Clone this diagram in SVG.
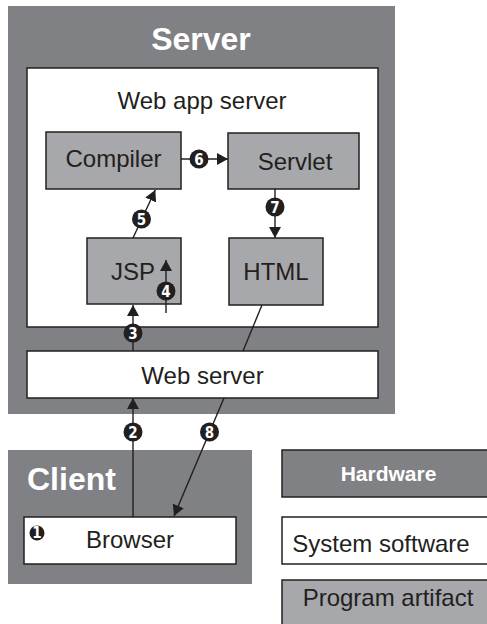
<svg xmlns="http://www.w3.org/2000/svg" width="487" height="624" viewBox="0 0 487 624">
<defs>
<style>
.hw{fill:#808185;}
.hwb{fill:#808185;stroke:#231f20;stroke-width:1.5;}
.sw{fill:#ffffff;stroke:#231f20;stroke-width:1.5;}
.pa{fill:#a7a8ab;stroke:#231f20;stroke-width:1.5;}
.t{font-family:"Liberation Sans",Arial,sans-serif;font-size:24px;fill:#231f20;text-anchor:middle;}
.tb{font-family:"Liberation Sans",Arial,sans-serif;font-weight:bold;fill:#ffffff;}
.ln{stroke:#231f20;stroke-width:1.4;fill:none;}
.bd{fill:#231f20;}
.bt{font-family:"DejaVu Sans Condensed","Liberation Sans",sans-serif;font-weight:bold;font-size:15px;fill:#ffffff;text-anchor:middle;}
</style>
<marker id="ah" markerUnits="userSpaceOnUse" markerWidth="12" markerHeight="12" refX="11" refY="6" orient="auto">
<path d="M0,0 L11,6 L0,12 z" fill="#231f20"/>
</marker>
</defs>

<g id="server">
<rect class="hw" x="8" y="6" width="387" height="408"/>
<text class="tb" x="201" y="50" font-size="32" text-anchor="middle">Server</text>
</g>
<g id="webappserver">
<rect class="sw" x="27" y="68" width="351" height="259"/>
<text class="t" x="202" y="109" font-size="23.5">Web app server</text>
</g>
<g id="compiler">
<rect class="pa" x="46" y="132" width="135" height="57"/>
<text class="t" x="113.5" y="167" font-size="25">Compiler</text>
</g>
<g id="servlet">
<rect class="pa" x="228" y="133" width="131" height="56"/>
<text class="t" x="295" y="170">Servlet</text>
</g>
<g id="jsp">
<rect class="pa" x="87" y="238" width="94" height="66"/>
<text class="t" x="133" y="280">JSP</text>
</g>
<g id="html">
<rect class="pa" x="229" y="238" width="94" height="67"/>
<text class="t" x="276" y="280">HTML</text>
</g>
<g id="webserver">
<rect class="sw" x="27" y="351" width="351" height="47"/>
<text class="t" x="202.5" y="384" font-size="24.5">Web server</text>
</g>
<g id="client">
<rect class="hw" x="8" y="450" width="244" height="134"/>
<text class="tb" x="27" y="490" font-size="32">Client</text>
</g>
<g id="browser">
<rect class="sw" x="24" y="517" width="212" height="47"/>
<text class="t" x="130" y="548" font-size="25">Browser</text>
<circle class="bd" cx="37" cy="533" r="7.5"/>
<text class="bt" x="37" y="538" font-size="12">1</text>
</g>
<g id="legend-hardware">
<rect class="hwb" x="282" y="450" width="214" height="47"/>
<text class="tb" x="388.5" y="481" font-size="21" text-anchor="middle">Hardware</text>
</g>
<g id="legend-system">
<rect class="sw" x="282" y="517" width="214" height="47"/>
<text class="t" x="381" y="552">System software</text>
</g>
<g id="legend-program">
<rect class="pa" x="282" y="580" width="214" height="50"/>
<text class="t" x="388" y="606">Program artifact</text>
</g>

<g id="connectors">
<line class="ln" x1="181" y1="159" x2="228" y2="159" marker-end="url(#ah)"/>
<line class="ln" x1="275" y1="189" x2="275" y2="238" marker-end="url(#ah)"/>
<line class="ln" x1="133" y1="238" x2="155.3" y2="190" marker-end="url(#ah)"/>
<line class="ln" x1="166" y1="313" x2="166" y2="260" marker-end="url(#ah)"/>
<line class="ln" x1="133" y1="351" x2="133" y2="305" marker-end="url(#ah)"/>
<line class="ln" x1="133" y1="517" x2="133" y2="398" marker-end="url(#ah)"/>
<line class="ln" x1="262" y1="305" x2="243" y2="351"/>
<line class="ln" x1="224" y1="398" x2="174" y2="516" marker-end="url(#ah)"/>
<g id="badges">
<circle class="bd" cx="199" cy="159" r="9.5"/><text class="bt" x="199" y="164.5">6</text>
<circle class="bd" cx="275" cy="207" r="9.5"/><text class="bt" x="275" y="212.5">7</text>
<circle class="bd" cx="141.5" cy="219" r="9.5"/><text class="bt" x="141.5" y="224.5">5</text>
<circle class="bd" cx="166" cy="291" r="9.5"/><text class="bt" x="166" y="296.5">4</text>
<circle class="bd" cx="133" cy="333" r="9.5"/><text class="bt" x="133" y="338.5">3</text>
<circle class="bd" cx="133" cy="432" r="9.5"/><text class="bt" x="133" y="437.5">2</text>
<circle class="bd" cx="209.5" cy="432" r="9.5"/><text class="bt" x="209.5" y="437.5">8</text>
</g>
</g>
</svg>
